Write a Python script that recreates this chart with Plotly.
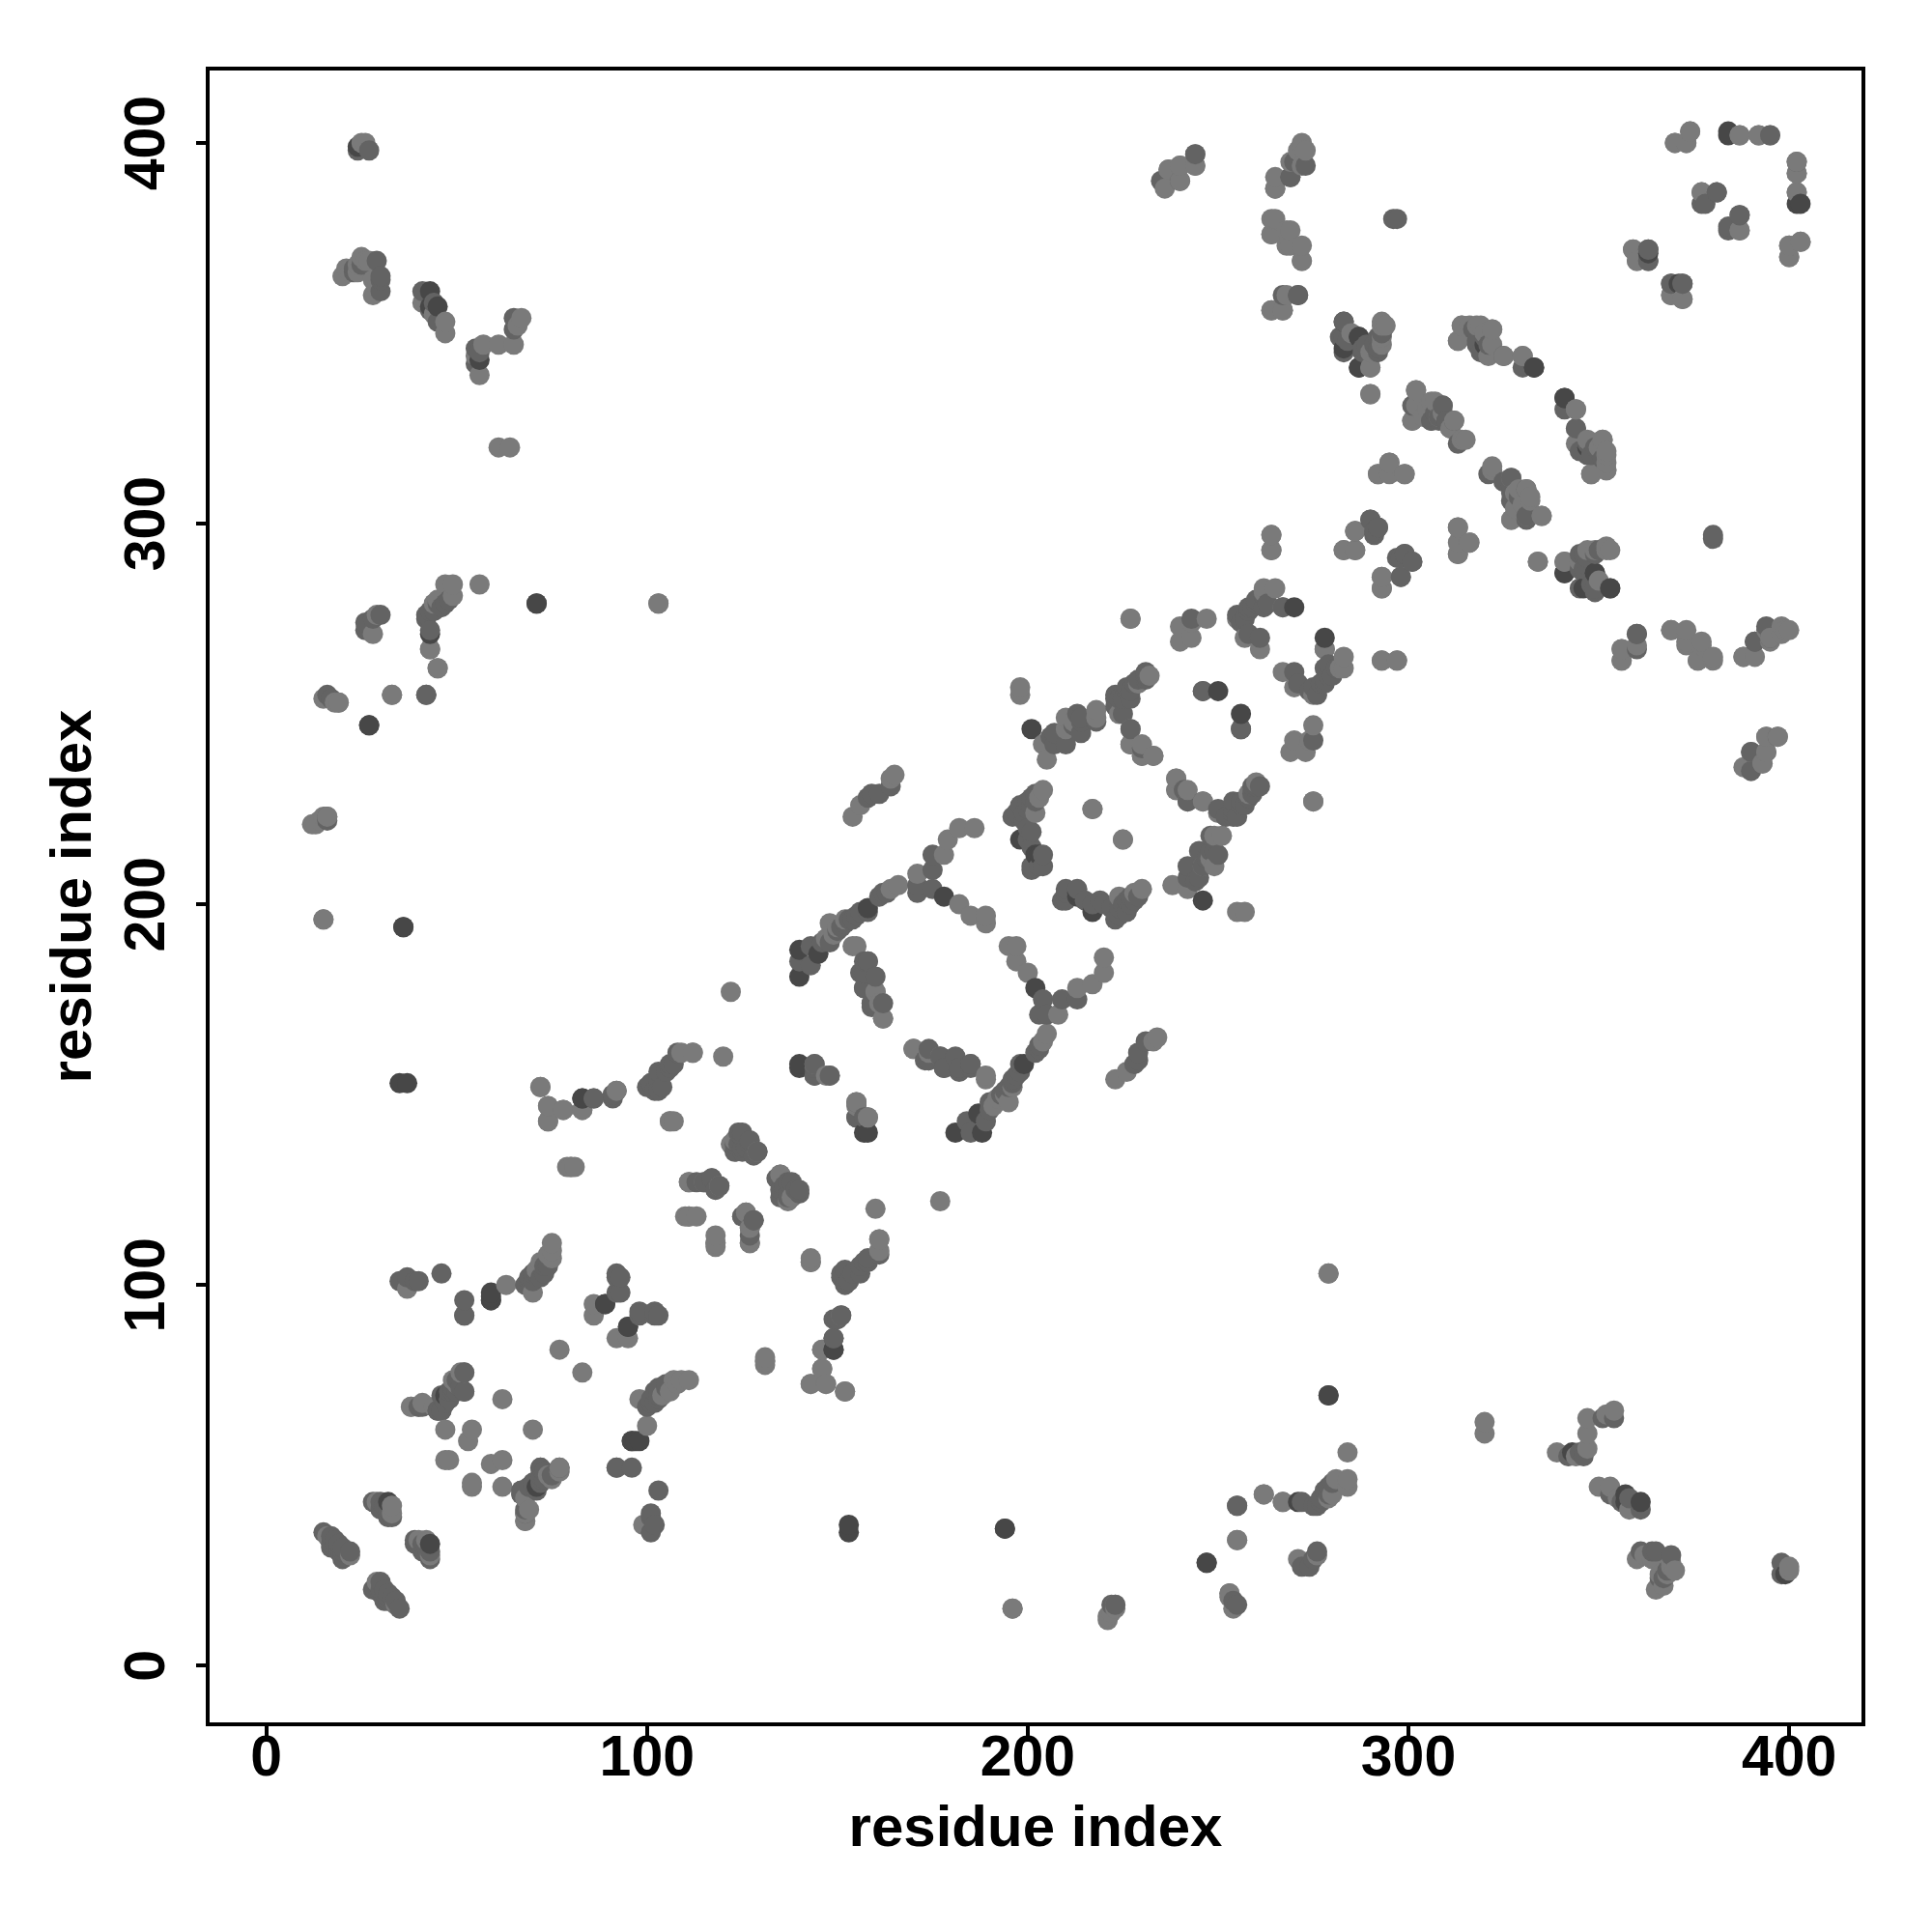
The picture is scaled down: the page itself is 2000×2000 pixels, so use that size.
import plotly.graph_objects as go

# Contacts (i < j), grouped by grey level; the map is symmetric.
light_contacts = [
 (25,400),(26,400),(20,365),(21,367),(24,368),(25,370),(28,364),(28,360),(41,358),(47,353),(47,350),
 (57,347),(61,347),(65,347),(56,339),(67,354),(61,320),(64,320),(103,279),(47,284),(49,284),(56,284),
 (49,281),(28,271),(43,267),(45,262),(15,254),(18,253),(19,253),(33,255),(12,221),(14,222),(15,196),
 (72,152),(74,147),(74,143),(78,146),(79,131),(80,131),(83,146),(86,95),(86,92),(77,83),(131,80),(131,81),
 (37,99),(52,92),(63,100),(70,98),(75,111),(75,109),(75,107),(38,68),(40,68),(44,68),(52,77),(47,62),
 (54,62),(53,59),(62,70),(47,54),(48,54),(68,38),(51,77),(34,16),(33,40),(42,33),(43,29),(22,29),
 (122,177),(112,161),(120,160),(106,143),(107,143),(111,127),(115,127),(119,126),(111,118),(113,118),
 (127,111),(118,111),(118,110),(122,137),(147,155),(148,155),(144,158),
 (143,74),(147,74),(152,72),(146,78),(146,83),(151,92),(143,106),(161,112),(161,109),(154,189),(162,170),
 (170,162),(174,161),(177,160),(189,155),(154,223),(156,226),(165,234),(164,233),(171,208),(178,213),
 (179,217),(182,220),(186,220),(189,197),(189,195),(185,197),(182,200),(148,195),(164,204),(204,230),
 (217,225),(225,217),(205,238),(204,242),(210,249),(218,249),(218,251),(198,255),(198,257),(227,275),
 (240,273),(243,274),(240,269),(243,270),(247,275),(262,282),(267,278),(230,239),(233,239),(239,233),
 (239,230),(242,230),(242,227),(224,250),(227,246),(257,270),(261,267),(262,283),(255,275),
 (244,397),(240,394),(237,393),(244,394),(272,399),(272,394),(269,395),(265,388),(265,380),(264,376),
 (268,377),(268,373),(272,369),(268,360),(264,356),(267,356),(294,352),(293,353),(290,341),(290,345),
 (290,334),(314,352),(313,348),(318,352),(322,351),(322,347),(321,344),(330,344),(344,330),(344,325),
 (351,322),(352,319),(352,314),(348,313),(302,335),(301,327),(306,332),(309,331),(314,322),(292,313),
 (295,316),(295,313),(299,313),(322,315),(327,312),(327,301),(332,307),(335,302),(331,302),(283,293),
 (286,293),(264,297),(264,293),(298,286),(293,286),(293,283),(313,299),(316,295),(313,292),(334,290),
 (341,290),(349,293),(352,293),(374,403),(373,400),(370,400),(387,402),(392,402),(395,402),(402,392),
 (402,387),(377,387),(387,377),(403,374),(400,373),(400,370),(359,372),(360,369),(369,360),(372,359),
 (356,264),(356,267),(369,272),(373,272),(373,269),(377,269),(376,264),(380,264),(388,265),(391,265),
 (398,273),(400,272),(394,244),(394,240),(390,240),(388,236),(393,237),(293,264),(297,264),(275,227),
 (196,15),(279,103),(262,45),(267,43),(223,16),(221,13),(223,15),(255,33),(253,19),
 (22,366),(24,366),(26,369),(27,369),(29,362),(44,355),(55,344),(66,352),(29,276),(44,279),(45,280),
 (71,104),(72,106),(74,108),(49,75),(50,74),(41,69),(123,138),(129,135),(150,194),(152,196),(166,205),
 (149,192),(147,191),(202,224),(203,228),(246,210),(248,212),(229,258),(232,260),(265,283),(352,316),
 (350,320),(329,309),(325,311),(328,304),(305,330),(308,328),(285,350),(293,347),(270,395),(271,398),
]
mid_contacts = [
 (24,398),(27,398),(23,367),(29,369),(30,365),(30,361),(30,364),(41,361),(45,353),(55,346),(55,342),
 (65,351),(65,354),(30,276),(28,275),(26,274),(26,272),(43,277),(42,276),(42,275),(46,278),(47,279),
 (16,255),(42,255),(16,223),(35,101),(37,102),(39,101),(40,101),(46,103),(52,96),(52,92),
 (68,100),(69,101),(70,101),(72,102),(73,103),(74,105),(93,102),(93,98),(92,103),(98,92),(102,92),
 (46,71),(46,67),(48,72),(49,73),(52,72),(45,67),(47,69),(51,73),(67,46),(68,40),(68,41),(72,52),(77,52),
 (75,50),(72,49),(70,48),(69,47),(67,45),(15,35),(17,34),(18,33),(19,32),(20,31),(22,30),(17,32),(19,30),
 (28,43),(30,43),(31,42),(32,41),(32,39),(28,20),(30,20),(31,19),(32,18),(31,17),(39,33),(41,30),
 (92,151),(91,150),(91,149),(86,149),(101,153),(103,156),(106,158),(108,161),(104,152),(103,151),
 (124,140),(125,139),(127,138),(123,135),(125,135),(135,129),(137,127),(134,128),(136,125),(140,125),
 (137,123),(117,128),(118,125),(126,119),(125,118),(128,117),(127,115),(127,113),(144,157),
 (144,155),(155,148),(155,144),(158,144),(151,102),(154,103),(156,105),(158,107),(153,101),(152,100),
 (157,106),(150,91),(149,86),(157,185),(157,182),(160,181),(160,177),(159,174),(157,178),(162,174),
 (156,182),(158,185),(174,159),(178,157),(182,157),(185,158),(173,159),(140,185),(143,184),
 (143,189),(148,190),(152,195),(155,197),(150,193),(153,196),(156,198),(161,202),(163,203),(159,229),
 (161,229),(164,231),(158,228),(171,205),(171,203),(175,209),(175,204),(175,213),(196,223),(197,224),
 (198,226),(199,222),(200,227),(201,228),(202,229),(200,220),(201,210),(203,210),(204,210),(204,213),
 (209,201),(201,215),(200,217),(200,225),(202,227),(206,244),(207,242),(210,242),(210,246),(214,245),
 (214,248),(218,248),(214,249),(213,250),(207,245),(226,257),(229,259),(231,261),(231,259),(223,255),
 (225,254),(223,254),(230,241),(227,242),(246,227),(250,225),(254,224),(256,226),(258,228),(260,231),
 (252,223),(254,227),(256,246),(246,256),(255,276),(258,278),(260,280),(256,274),(258,271),
 (261,270),(258,277),(260,279),(257,275),(262,278),(262,281),(278,267),(243,275),
 (240,390),(269,391),(271,360),(283,349),(283,345),(288,345),(292,345),(292,349),
 (289,347),(319,345),(325,344),(330,341),(347,321),(351,317),(348,318),(302,331),(301,331),(312,327),
 (311,325),(313,321),(306,327),(310,327),(327,310),(331,309),(327,306),(290,301),(292,299),(291,297),
 (286,298),(299,292),(301,290),(298,291),(346,292),(346,288),(349,282),(353,283),(380,296),(380,297),
 (402,395),(381,387),(377,384),(387,381),(384,378),(363,369),(369,363),(372,363),(363,372),(360,271),
 (360,267),(394,273),(391,269),(395,270),(397,244),(390,235),(222,16),(255,42),(254,17),(272,43),
 (23,366),(25,368),(43,356),(44,358),(56,345),(48,280),(44,277),(45,279),(69,102),(70,103),(71,103),(73,105),
 (48,70),(50,72),(124,137),(126,136),(146,190),(151,194),(154,196),(158,198),(162,203),(199,224),(201,226),
 (201,219),(212,247),(227,256),(228,258),(263,279),(259,278),(349,320),(347,318),(327,308),(328,308),(307,329),
 (284,348),(291,347),(293,350),
]
dark_contacts = [
 (24,399),(43,361),(43,357),(45,357),(56,343),(71,279),(43,271),(27,247),(36,194),(35,153),(37,153),
 (59,98),(59,96),(89,95),(95,89),(47,71),(96,59),(97,59),(32,43),
 (83,149),(140,157),(158,140),(149,83),(140,181),(140,188),(145,187),(158,199),
 (178,202),(198,217),(202,213),(203,213),(201,246),(250,256),(270,278),
 (283,353),(287,349),(287,341),(320,347),(333,341),(341,333),
 (341,287),(349,287),(346,283),(384,403),(402,384),(363,371),
 (194,36),(279,71),(247,27),
]

LIGHT, MID, DARK = "#7a7a7a", "#636363", "#474747"
contacts = [(i, j, LIGHT) for i, j in light_contacts] + \
           [(i, j, MID) for i, j in mid_contacts] + \
           [(i, j, DARK) for i, j in dark_contacts]
pairs = contacts + [(j, i, c) for i, j, c in contacts]
pairs.sort(key=lambda p: (p[0], p[1]))

fig = go.Figure(go.Scatter(
    x=[p[0] for p in pairs], y=[p[1] for p in pairs], mode="markers",
    marker=dict(size=21, color=[p[2] for p in pairs], line=dict(width=0)),
    showlegend=False, hoverinfo="skip"))

tick_font = dict(family="Liberation Sans", size=59, color="black", weight="bold")
title_font = dict(family="Liberation Sans", size=60, color="black", weight="bold")
axis = dict(range=[-14.9, 419], tickvals=[0, 100, 200, 300, 400], showgrid=False, zeroline=False,
            showline=True, mirror=True, linecolor="black", linewidth=4,
            ticks="outside", ticklen=10, tickwidth=4, tickcolor="black", tickfont=tick_font)
fig.update_xaxes(**axis, ticklabelstandoff=-30, title=dict(text="residue index", font=title_font, standoff=20))
fig.update_yaxes(**axis, ticklabelstandoff=9, ticklabelshift=9, tickangle=-90,
                 title=dict(text="residue index", font=title_font, standoff=4))
fig.update_layout(width=2000, height=2000, margin=dict(l=217, r=73, t=73, b=217),
                  paper_bgcolor="white", plot_bgcolor="white")
fig.write_html("out.html", config={"displayModeBar": False}, post_script="document.body.style.margin='0';")
